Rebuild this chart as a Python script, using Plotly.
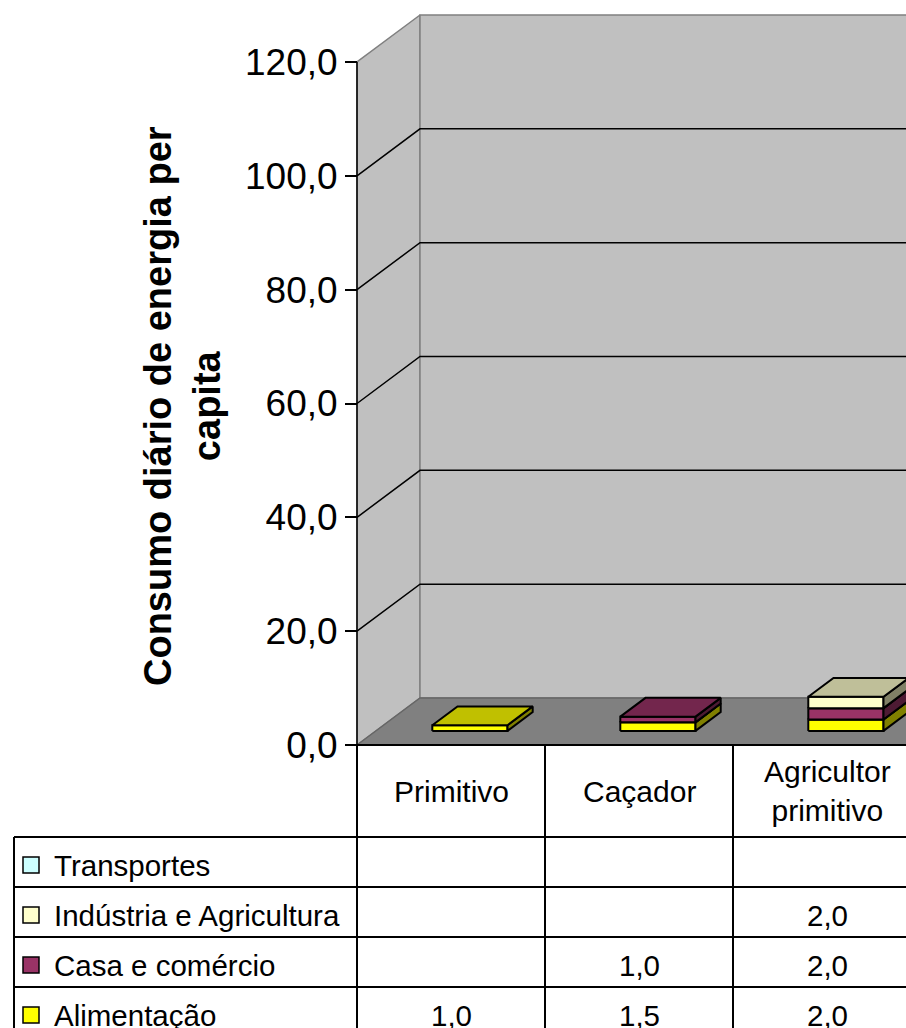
import plotly.graph_objects as go

# ---- data -------------------------------------------------------------
categories = ["Primitivo", "Caçador", "Agricultor<br>primitivo"]
series_names = ["Alimentação", "Casa e comércio", "Indústria e Agricultura", "Transportes"]
alimentacao = [1.0, 1.5, 2.0]
casa_comercio = [None, 1.0, 2.0]
industria_agricultura = [None, None, 2.0]
transportes = [None, None, None]
y_ticks = [0, 20, 40, 60, 80, 100, 120]

series_values = [alimentacao, casa_comercio, industria_agricultura, transportes]
# front, top, side shades for each series
front_colors = ["#FFFF00", "#993366", "#FFFFCC", "#CCFFFF"]
top_colors = ["#C0C000", "#73264D", "#BFBF99", "#99BFBF"]
side_colors = ["#808000", "#4D1A33", "#808066", "#668080"]

# ---- canvas geometry (pixels) ----------------------------------------
W, H = 906, 1028
AX_X = 357          # front-left corner of the floor
AX_Y0 = 745         # value 0 on the front plane
AX_Y120 = 62        # value 120 on the front plane
CAT_W = 188         # width of one category on the front plane
DEPTH_PX = (63, 47) # projection of the full floor depth

px_per_unit = (AX_Y0 - AX_Y120) / 120.0
DX = DEPTH_PX[0] / CAT_W
DY = DEPTH_PX[1] / px_per_unit
X_RANGE = [-AX_X / CAT_W, (W - AX_X) / CAT_W]
Y_RANGE = [-(H - AX_Y0) / px_per_unit, AX_Y0 / px_per_unit]
X_FAR = X_RANGE[1] + 1
Y_MAX = y_ticks[-1]

BAR_W = 0.4
D0, D1 = 0.3, 0.7   # bar depth span inside the floor
FONT = "Liberation Sans, Arial, sans-serif"


def fmt(v):
    return f"{v:.1f}".replace(".", ",")


fig = go.Figure()


def poly(xs, ys, fill, line_color="black", width=2):
    fig.add_trace(go.Scatter(
        x=list(xs) + [xs[0]], y=list(ys) + [ys[0]], mode="lines",
        fill="toself", fillcolor=fill,
        line=dict(color=line_color, width=width),
        hoverinfo="skip", showlegend=False))


# ---- walls and floor ----------------------------------------------------
poly([0, DX, DX, 0], [0, DY, Y_MAX + DY, Y_MAX], "#C0C0C0", "#808080", 1.5)
poly([DX, X_FAR, X_FAR, DX], [DY, DY, Y_MAX + DY, Y_MAX + DY], "#C0C0C0", "#808080", 1.5)
poly([0, DX, X_FAR, X_FAR], [0, DY, DY, 0], "#808080", "#666666", 1.5)

for v in y_ticks[1:-1]:
    fig.add_trace(go.Scatter(
        x=[0, DX, X_FAR], y=[v, v + DY, v + DY], mode="lines",
        line=dict(color="black", width=1.5), hoverinfo="skip", showlegend=False))

# value axis line on the front plane
fig.add_trace(go.Scatter(x=[0, 0], y=[0, Y_MAX], mode="lines",
                         line=dict(color="black", width=1.5),
                         hoverinfo="skip", showlegend=False))

# ---- stacked 3D columns --------------------------------------------------
dx = (D1 - D0) * DX
dy = (D1 - D0) * DY
for i in range(len(categories)):
    x0 = i + 0.5 - BAR_W / 2 + D0 * DX
    x1 = x0 + BAR_W
    yo = D0 * DY
    base = 0.0
    for s, vals in enumerate(series_values):
        v = vals[i]
        if not v:
            continue
        b, t = base + yo, base + v + yo
        poly([x0, x1, x1, x0], [b, b, t, t], front_colors[s])
        poly([x1, x1 + dx, x1 + dx, x1], [b, b + dy, t + dy, t], side_colors[s])
        poly([x0, x1, x1 + dx, x0 + dx], [t, t, t + dy, t + dy], top_colors[s])
        base += v


# ---- data table ---------------------------------------------------------
def px(x):
    return x / W


def py(y):
    return 1 - y / H


shapes = []
annotations = []
TABLE_LEFT = 14
HEADER_BOTTOM = 837
ROW_H = 50
line = dict(color="black", width=2)

# floor front edge / table top
shapes.append(dict(type="line", xref="paper", yref="paper",
                   x0=px(AX_X), x1=1, y0=py(AX_Y0), y1=py(AX_Y0), line=line))
# column separators
for k in range(len(categories) + 1):
    xk = AX_X + k * CAT_W
    shapes.append(dict(type="line", xref="paper", yref="paper",
                       x0=px(xk), x1=px(xk), y0=py(AX_Y0), y1=0, line=line))
shapes.append(dict(type="line", xref="paper", yref="paper",
                   x0=px(TABLE_LEFT), x1=px(TABLE_LEFT), y0=py(HEADER_BOTTOM), y1=0,
                   line=line))
rows = list(reversed(range(len(series_names))))  # Transportes first
for r in range(len(rows) + 1):
    yr = HEADER_BOTTOM + r * ROW_H
    shapes.append(dict(type="line", xref="paper", yref="paper",
                       x0=px(TABLE_LEFT), x1=1, y0=py(yr), y1=py(yr), line=line))

for k, cat in enumerate(categories):
    annotations.append(dict(
        xref="paper", yref="paper", x=px(AX_X + (k + 0.5) * CAT_W),
        y=py((AX_Y0 + HEADER_BOTTOM) / 2), text=cat, showarrow=False,
        xanchor="center", yanchor="middle",
        font=dict(family=FONT, size=30, color="black")))

for r, s in enumerate(rows):
    yc = HEADER_BOTTOM + (r + 0.5) * ROW_H
    shapes.append(dict(type="rect", xref="paper", yref="paper",
                       x0=px(23), x1=px(39), y0=py(yc - 5), y1=py(yc + 11),
                       fillcolor=front_colors[s], line=dict(color="black", width=1.5)))
    annotations.append(dict(
        xref="paper", yref="paper", x=px(52), y=py(yc + 3), text=series_names[s],
        showarrow=False, xanchor="left", yanchor="middle",
        font=dict(family=FONT, size=29.5, color="black")))
    for k in range(len(categories)):
        v = series_values[s][k]
        if v is None:
            continue
        annotations.append(dict(
            xref="paper", yref="paper", x=px(AX_X + (k + 0.5) * CAT_W), y=py(yc + 3),
            text=fmt(v), showarrow=False, xanchor="center", yanchor="middle",
            font=dict(family=FONT, size=29.5, color="black")))

# value axis title
annotations.append(dict(
    xref="paper", yref="paper", x=px(183), y=py(406),
    text="Consumo diário de energia per<br>capita", textangle=-90,
    showarrow=False, xanchor="center", yanchor="middle",
    font=dict(family=FONT, size=38, color="black", weight="bold")))

fig.update_layout(
    width=W, height=H,
    margin=dict(l=0, r=0, t=0, b=0, autoexpand=False),
    paper_bgcolor="white", plot_bgcolor="rgba(0,0,0,0)",
    separators=",.",
    showlegend=False,
    xaxis=dict(range=X_RANGE, domain=[0, 1], visible=False, fixedrange=True,
               automargin=False),
    yaxis=dict(
        range=Y_RANGE, domain=[0, 1], anchor="free", position=px(AX_X),
        side="left", automargin=False,
        showline=False, ticks="outside", ticklen=12, tickwidth=1.5,
        tickcolor="black", tickvals=y_ticks, tickformat=".1f",
        tickfont=dict(family=FONT, size=37, color="black"),
        showgrid=False, zeroline=False, fixedrange=True),
    shapes=shapes,
    annotations=annotations,
)

fig.write_html("out.html")
